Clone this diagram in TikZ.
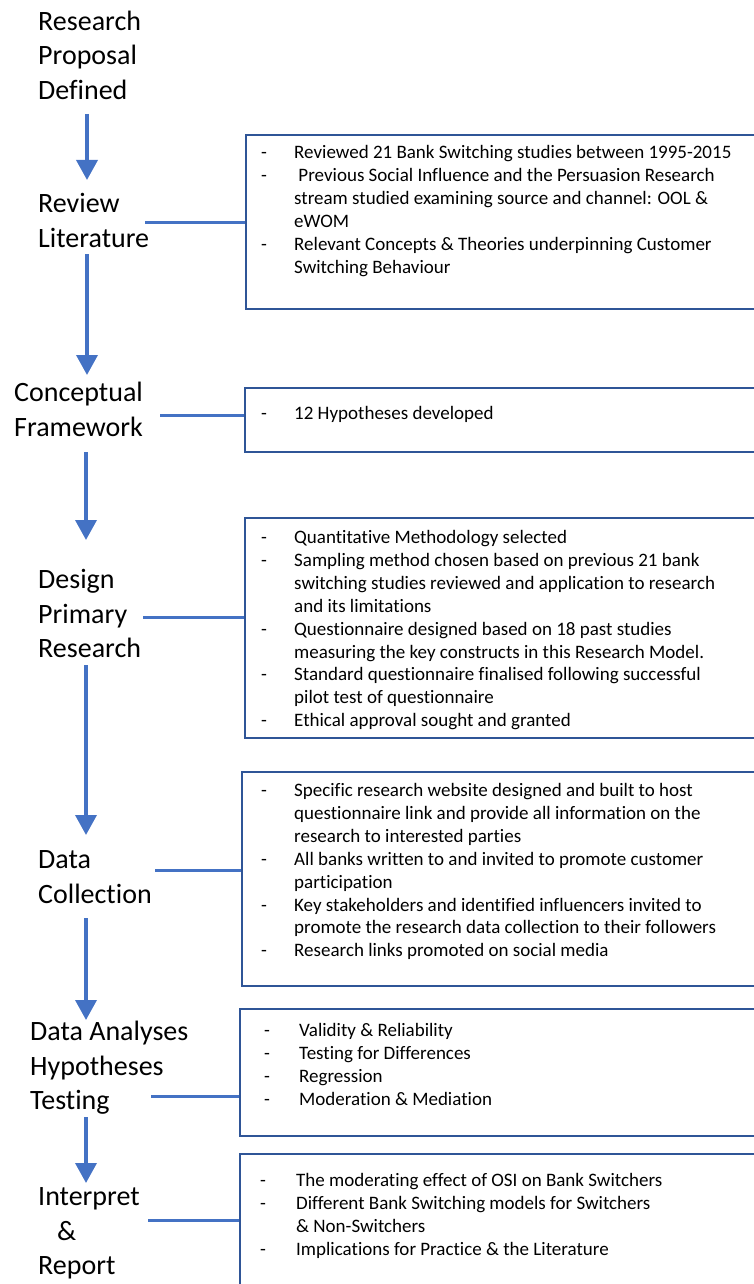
\documentclass[tikz,border=0pt]{standalone}
\usepackage{fontspec}
\setmainfont{Carlito}[Ligatures=NoCommon]
\usetikzlibrary{arrows.meta}
\definecolor{flowblue}{HTML}{4472C4}
\definecolor{boxblue}{HTML}{2F5597}
\newcommand{\itemrows}[1]{\begin{tabular}{@{}p{\dashcol}@{}l@{}}#1\end{tabular}}
\newlength{\dashcol}
\begin{document}
\begin{tikzpicture}[x=1pt, y=-1pt,
  stage/.style={anchor=north west, inner sep=0pt, align=left,
    font=\fontsize{28}{34.5}\selectfont},
  infobox/.style={draw=boxblue, line width=1.8pt, anchor=north west,
    inner sep=0pt, minimum width=540pt},
  items/.style={anchor=north west, inner sep=0pt,
    font=\fontsize{19}{22.9}\selectfont},
  arr/.style={draw=flowblue, line width=3.6pt,
    -{Triangle[length=20pt,width=21pt]}},
  conn/.style={draw=flowblue, line width=3pt}]
\useasboundingbox (0,0) rectangle (754,1284);
\clip (0,0) rectangle (754,1284);

% stage labels down the left side
\node[stage] (L1) at (38,5.8) {Research\strut\\Proposal\strut\\Defined\strut};
\node[stage] (L2) at (38,188.2) {Review\strut\\Literature\strut};
\node[stage] (L3) at (14,377.5) {Conceptual\strut\\Framework\strut};
\node[stage] (L4) at (38,564.4) {Design\strut\\Primary\strut\\Research\strut};
\node[stage] (L5) at (38,844.4) {Data\strut\\Collection\strut};
\node[stage] (L6) at (30,1016.4) {Data Analyses\strut\\Hypotheses\strut\\Testing\strut};
\node[stage] (L7) at (38,1181.5) {Interpret\strut\\\hspace{19pt}\&\strut\\Report\strut};

% detail boxes
\node[infobox, minimum height=174pt] (B1) at (245,134) {};
\node[infobox, minimum height=64pt]  (B2) at (244,387) {};
\node[infobox, minimum height=220pt] (B3) at (244,517) {};
\node[infobox, minimum height=214pt] (B4) at (241,771) {};
\node[infobox, minimum height=127pt] (B5) at (239,1008) {};
\node[infobox, minimum height=200pt] (B6) at (239,1153) {};

% box contents
\setlength{\dashcol}{33pt}
\node[items] (T1) at (261,142.3) {\itemrows{
  - & Reviewed 21 Bank Switching studies between 1995-2015\\
  - & \ Previous Social Influence and the Persuasion Research\\
    & stream studied examining source and channel: OOL \&\\
    & eWOM\\
  - & Relevant Concepts \& Theories underpinning Customer\\
    & Switching Behaviour\\}};
\node[items] (T2) at (261,403.3) {\itemrows{
  - & 12 Hypotheses developed\\}};
\node[items] (T3) at (261,527.3) {\itemrows{
  - & Quantitative Methodology selected\\
  - & Sampling method chosen based on previous 21 bank\\
    & switching studies reviewed and application to research\\
    & and its limitations\\
  - & Questionnaire designed based on 18 past studies\\
    & measuring the key constructs in this Research Model.\\
  - & Standard questionnaire finalised following successful\\
    & pilot test of questionnaire\\
  - & Ethical approval sought and granted\\}};
\node[items] (T4) at (261,780.3) {\itemrows{
  - & Specific research website designed and built to host\\
    & questionnaire link and provide all information on the\\
    & research to interested parties\\
  - & All banks written to and invited to promote customer\\
    & participation\\
  - & Key stakeholders and identified influencers invited to\\
    & promote the research data collection to their followers\\
  - & Research links promoted on social media\\}};
\setlength{\dashcol}{35pt}
\node[items] (T5) at (264,1020.3) {\itemrows{
  - & Validity \& Reliability\\
  - & Testing for Differences\\
  - & Regression\\
  - & Moderation \& Mediation\\}};
\setlength{\dashcol}{36pt}
\node[items] (T6) at (260,1170.3) {\itemrows{
  - & The moderating effect of OSI on Bank Switchers\\
  - & Different Bank Switching models for Switchers\\
    & \& Non-Switchers\\
  - & Implications for Practice \& the Literature\\}};

% flow arrows between stages
\coordinate (a1s) at (87,114);  \coordinate (a1e) at (87,180);
\coordinate (a2s) at (87,254);  \coordinate (a2e) at (87,375);
\coordinate (a3s) at (86,452);  \coordinate (a3e) at (86,540);
\coordinate (a4s) at (86,665);  \coordinate (a4e) at (86,835);
\coordinate (a5s) at (86,918);  \coordinate (a5e) at (86,1020);
\coordinate (a6s) at (86,1117); \coordinate (a6e) at (86,1183);
\draw[arr] (a1s) -- (a1e);
\draw[arr] (a2s) -- (a2e);
\draw[arr] (a3s) -- (a3e);
\draw[arr] (a4s) -- (a4e);
\draw[arr] (a5s) -- (a5e);
\draw[arr] (a6s) -- (a6e);

% links from each stage to its box
\coordinate (c1) at (145,222);
\coordinate (c2) at (160,415);
\coordinate (c3) at (143,617);
\coordinate (c4) at (155,870);
\coordinate (c5) at (151,1096);
\coordinate (c6) at (148,1220);
\draw[conn] (c1) -- (B1.west |- c1);
\draw[conn] (c2) -- (B2.west |- c2);
\draw[conn] (c3) -- (B3.west |- c3);
\draw[conn] (c4) -- (B4.west |- c4);
\draw[conn] (c5) -- (B5.west |- c5);
\draw[conn] (c6) -- (B6.west |- c6);
\end{tikzpicture}
\end{document}
